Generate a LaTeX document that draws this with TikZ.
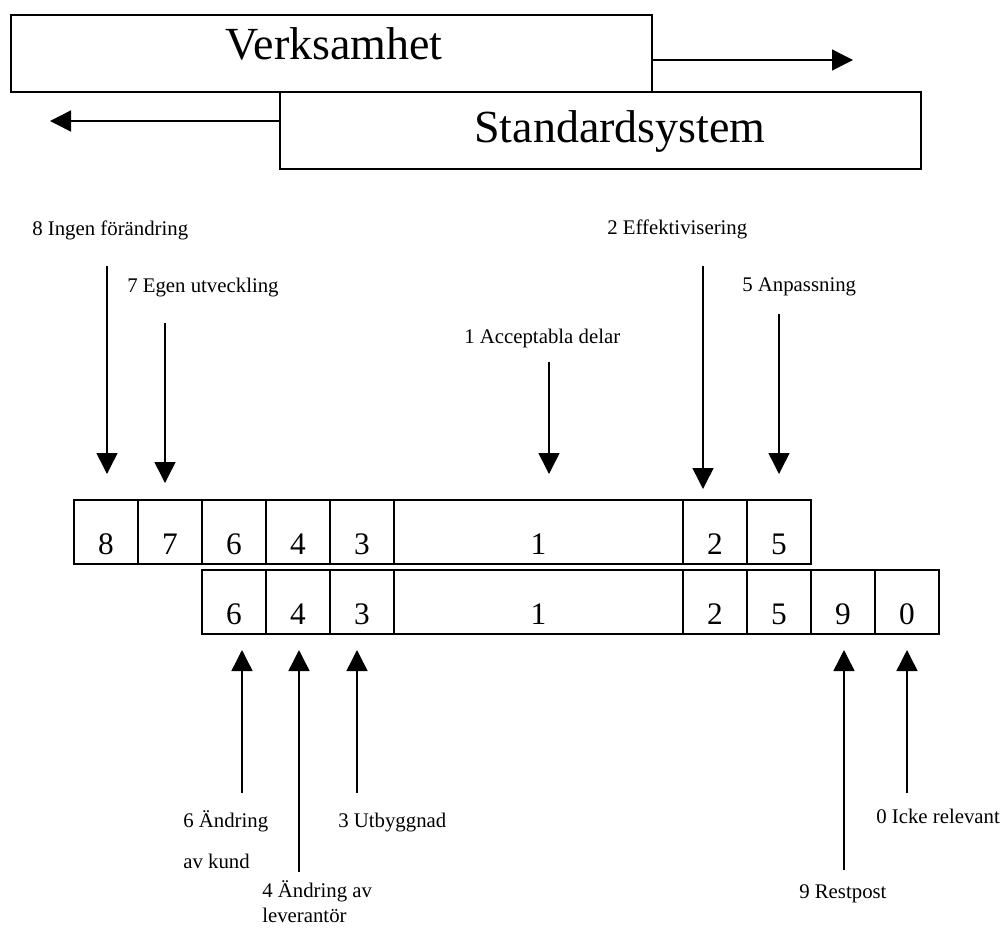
\documentclass[tikz,border=0pt]{standalone}
\usepackage{fontspec}
\setmainfont{Liberation Serif}
\usetikzlibrary{arrows.meta, positioning}

\begin{document}
\begin{tikzpicture}[
  x=0.75pt, y=-0.75pt,
  bigbox/.style={rectangle, draw, line width=1pt, minimum width=480.75pt, minimum height=57.75pt, outer sep=0pt},
  title/.style={anchor=base, inner sep=0pt, font=\fontsize{34.5}{40}\selectfont},
  cell/.style={rectangle, draw, line width=1pt, minimum width=48pt, minimum height=48pt, outer sep=0pt, inner sep=0pt, text height=33.75pt, text depth=0pt, font=\fontsize{23.5}{28}\selectfont},
  widecell/.style={cell, minimum width=216.75pt},
  lbl/.style={anchor=base west, inner sep=0pt, font=\fontsize{15.6}{19}\selectfont},
  arrow/.style={-{Triangle[length=15.75pt, width=15.75pt]}, line width=1.1pt}
]
  \useasboundingbox (0,0) rectangle (1003,929);

  % Top boxes
  \node[bigbox] (verk) at (331.5, 53.5) {};
  \node[bigbox] (std) at (600.5, 130.5) {};
  \node[title] (verktxt) at (334, 59) {Verksamhet};
  \node[title] (stdtxt) at (620, 142) {Standardsystem};

  \coordinate (rtip) at (853, 60);
  \coordinate (ltip) at (50, 121);
  \draw[arrow] (verk.east |- rtip) -- (rtip);
  \draw[arrow] (std.west |- ltip) -- (ltip);

  % Upper row
  \node[cell] (t8) at (106, 532) {8};
  \node[cell, right=0pt of t8] (t7) {7};
  \node[cell, right=0pt of t7] (t6) {6};
  \node[cell, right=0pt of t6] (t4) {4};
  \node[cell, right=0pt of t4] (t3) {3};
  \node[widecell, right=0pt of t3] (t1) {1};
  \node[cell, right=0pt of t1] (t2) {2};
  \node[cell, right=0pt of t2] (t5) {5};

  % Lower row
  \node[cell, below=4.5pt of t6] (b6) {6};
  \node[cell, right=0pt of b6] (b4) {4};
  \node[cell, right=0pt of b4] (b3) {3};
  \node[widecell, right=0pt of b3] (b1) {1};
  \node[cell, right=0pt of b1] (b2) {2};
  \node[cell, right=0pt of b2] (b5) {5};
  \node[cell, right=0pt of b5] (b9) {9};
  \node[cell, right=0pt of b9] (b0) {0};

  % Labels above
  \node[lbl] (l8) at (32, 235) {8 Ingen förändring};
  \node[lbl] (l7) at (127, 292) {7 Egen utveckling};
  \node[lbl] (l1) at (464, 343) {1 Acceptabla delar};
  \node[lbl] (l2) at (607, 234) {2 Effektivisering};
  \node[lbl] (l5) at (742, 291) {5 Anpassning};

  % Labels below
  \node[lbl] (l6) at (183, 827) {6 Ändring};
  \node[lbl] (l6b) at (183, 868) {av kund};
  \node[lbl] (l3) at (338, 827) {3 Utbyggnad};
  \node[lbl] (l4) at (262, 897) {4 Ändring av};
  \node[lbl] (l4b) at (262, 922) {leverantör};
  \node[lbl] (l9) at (799, 898) {9 Restpost};
  \node[lbl] (l0) at (876, 823) {0 Icke relevant};

  % Arrow tails
  \coordinate (a8) at (107, 266);
  \coordinate (a7) at (165, 323);
  \coordinate (a1) at (549, 362);
  \coordinate (a2) at (703, 266);
  \coordinate (a5) at (779, 314);
  \coordinate (a6) at (242, 793);
  \coordinate (a4) at (299, 872);
  \coordinate (a3) at (357, 793);
  \coordinate (a9) at (844, 870);
  \coordinate (a0) at (907, 793);

  \draw[arrow, shorten >=19.5pt] (a8) -- (a8 |- t8.north);
  \draw[arrow, shorten >=12.75pt] (a7) -- (a7 |- t7.north);
  \draw[arrow, shorten >=19.5pt] (a1) -- (a1 |- t1.north);
  \draw[arrow, shorten >=8.25pt] (a2) -- (a2 |- t2.north);
  \draw[arrow, shorten >=19.5pt] (a5) -- (a5 |- t5.north);

  \draw[arrow, shorten >=12pt] (a6) -- (a6 |- b6.south);
  \draw[arrow, shorten >=12pt] (a4) -- (a4 |- b4.south);
  \draw[arrow, shorten >=12pt] (a3) -- (a3 |- b3.south);
  \draw[arrow, shorten >=12pt] (a9) -- (a9 |- b9.south);
  \draw[arrow, shorten >=12pt] (a0) -- (a0 |- b0.south);
\end{tikzpicture}
\end{document}
